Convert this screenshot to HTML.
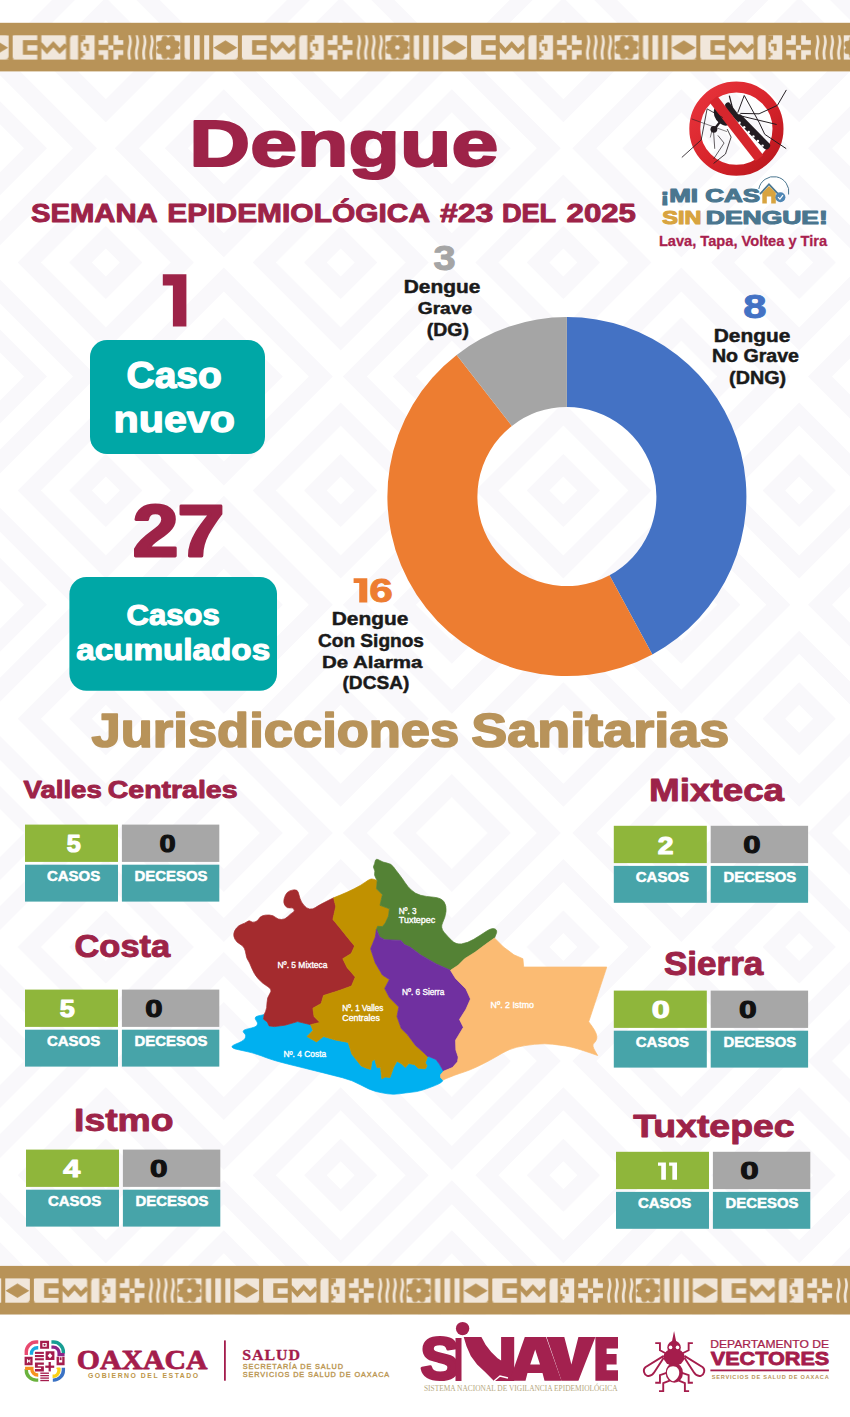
<!DOCTYPE html>
<html lang="es"><head><meta charset="utf-8"><title>Dengue - Semana Epidemiológica #23 del 2025</title>
<style>html,body{margin:0;padding:0;background:#fff}body{width:850px;height:1417px;overflow:hidden;font-family:"Liberation Sans",sans-serif}#page{position:relative;width:850px;height:1417px;overflow:hidden}svg{display:block}text{white-space:pre}</style></head><body>
<div id="page"><svg width="850" height="1417" viewBox="0 0 850 1417">
<defs><symbol id="dA" overflow="visible"><path d="M-88,0 L0,-88 L88,0 L0,88Z" fill="#f9f8fb"/><path d="M-65,0 L0,-65 L65,0 L0,65Z" fill="#ffffff"/><path d="M-36.5,0 L0,-36.5 L36.5,0 L0,36.5Z" fill="#f9f8fb"/><path d="M-14,0 L0,-14 L14,0 L0,14Z" fill="#ffffff"/></symbol><symbol id="dB" overflow="visible"><path d="M-109,0 L0,-109 L109,0 L0,109Z" fill="#f9f8fb"/><path d="M-85,0 L0,-85 L85,0 L0,85Z" fill="#ffffff"/><path d="M-59,0 L0,-59 L59,0 L0,59Z" fill="#f9f8fb"/><path d="M-36,0 L0,-36 L36,0 L0,36Z" fill="#ffffff"/></symbol><clipPath id="bgclip"><rect x="0" y="0" width="850" height="1315"/></clipPath><pattern id="band" width="229.2" height="24.3" patternUnits="userSpaceOnUse"><g transform="translate(0.00,0)"><path d="M0,0H24.6V24.3H3A3,3 0 0 1 0,21.3Z" fill="#f1e7db"/><path d="M27.6,4.9H10.2V19.4H27.6V15.2H14.6V9.9H27.6Z" fill="#b89358"/></g><g transform="translate(28.65,0)"><path d="M0,0H22.6A2,2 0 0 1 24.6,2V24.3H0Z" fill="#f1e7db"/><path d="M-4,6.5L0,9.6L5.6,15.8L12,9L18.3,15.8L24.6,9.6" fill="none" stroke="#b89358" stroke-width="4.2" stroke-linejoin="miter"/></g><g transform="translate(57.30,0)"><path d="M4,0H8.1V24.3H0V4A4,4 0 0 1 4,0Z" fill="#f1e7db"/><path d="M15.5,0H24.6V24.3H10.9V22.2H13V20H15V17.8H12.8V15.6H10.9V7H13V4.6H15.5Z" fill="#f1e7db"/><path d="M13.6,8.6H19V15.4H16.2V11.2H13.6Z" fill="#b89358"/></g><g transform="translate(85.95,0)"><path d="M4.9,0H9.5V9.5H0V4.9H4.9Z" fill="#f1e7db"/><path d="M14.9,0H19.6V4.9H24.6V9.5H14.9Z" fill="#f1e7db"/><path d="M0,14.9H9.5V24.3H4.9V19.6H0Z" fill="#f1e7db"/><path d="M14.9,14.9H24.6V19.6H19.6V24.3H14.9Z" fill="#f1e7db"/><rect x="9.9" y="10.1" width="4.8" height="4.4" fill="#f1e7db"/></g><g transform="translate(114.60,0)"><path d="M0.40,0 h2.7 c1.8,5 1.8,7.5 0.7,12 c-1.1,4.5 -1.1,7.5 0,12.3 h-2.7 c-1.1,-4.8 -1.1,-7.8 0,-12.3 c1.1,-4.5 1.1,-7 0,-12z" fill="#f1e7db"/><path d="M7.70,0 h2.7 c1.8,5 1.8,7.5 0.7,12 c-1.1,4.5 -1.1,7.5 0,12.3 h-2.7 c-1.1,-4.8 -1.1,-7.8 0,-12.3 c1.1,-4.5 1.1,-7 0,-12z" fill="#f1e7db"/><path d="M15.00,0 h2.7 c1.8,5 1.8,7.5 0.7,12 c-1.1,4.5 -1.1,7.5 0,12.3 h-2.7 c-1.1,-4.8 -1.1,-7.8 0,-12.3 c1.1,-4.5 1.1,-7 0,-12z" fill="#f1e7db"/><path d="M22.30,0 h2.7 c1.8,5 1.8,7.5 0.7,12 c-1.1,4.5 -1.1,7.5 0,12.3 h-2.7 c-1.1,-4.8 -1.1,-7.8 0,-12.3 c1.1,-4.5 1.1,-7 0,-12z" fill="#f1e7db"/></g><g transform="translate(143.25,0)"><g clip-path="url(#gclip)"><rect width="24.6" height="24.3" fill="#f1e7db"/><circle cx="12.3" cy="12.15" r="10.0" fill="#b89358"/><circle cx="20.80" cy="15.67" r="3.1" fill="#b89358"/><circle cx="15.82" cy="20.65" r="3.1" fill="#b89358"/><circle cx="8.78" cy="20.65" r="3.1" fill="#b89358"/><circle cx="3.80" cy="15.67" r="3.1" fill="#b89358"/><circle cx="3.80" cy="8.63" r="3.1" fill="#b89358"/><circle cx="8.78" cy="3.65" r="3.1" fill="#b89358"/><circle cx="15.82" cy="3.65" r="3.1" fill="#b89358"/><circle cx="20.80" cy="8.63" r="3.1" fill="#b89358"/><circle cx="12.3" cy="12.15" r="2.3" fill="#f1e7db"/></g></g><g transform="translate(171.90,0)"><path d="M0,0h5.3v24.3h-1.3a4,4 0 0 1 -4,-4z" fill="#f1e7db"/><rect x="9.5" y="0" width="5.6" height="24.3" fill="#f1e7db"/><rect x="19.6" y="0" width="5" height="24.3" fill="#f1e7db"/></g><g transform="translate(200.55,0)"><path d="M0,0H24.6V20.3A4,4 0 0 1 20.6,24.3H0Z" fill="#f1e7db"/><path d="M0.3,12.3L12.2,5.2L24,12.3L12.2,19.5Z" fill="#b89358"/></g></pattern><clipPath id="gclip"><rect width="24.6" height="24.3"/></clipPath></defs>
<rect width="850" height="1417" fill="#ffffff"/>
<g clip-path="url(#bgclip)"><use href="#dA" x="-129.1" y="34.2"/><use href="#dA" x="105.8" y="34.2"/><use href="#dA" x="340.7" y="34.2"/><use href="#dA" x="563.4" y="34.2"/><use href="#dA" x="799.2" y="34.2"/><use href="#dB" x="-12.0" y="148.3"/><use href="#dB" x="223.8" y="148.3"/><use href="#dB" x="451.8" y="148.3"/><use href="#dB" x="681.3" y="148.3"/><use href="#dB" x="917.0" y="148.3"/><use href="#dA" x="-129.1" y="262.4"/><use href="#dA" x="105.8" y="262.4"/><use href="#dA" x="340.7" y="262.4"/><use href="#dA" x="563.4" y="262.4"/><use href="#dA" x="799.2" y="262.4"/><use href="#dB" x="-12.0" y="376.5"/><use href="#dB" x="223.8" y="376.5"/><use href="#dB" x="451.8" y="376.5"/><use href="#dB" x="681.3" y="376.5"/><use href="#dB" x="917.0" y="376.5"/><use href="#dA" x="-129.1" y="490.6"/><use href="#dA" x="105.8" y="490.6"/><use href="#dA" x="340.7" y="490.6"/><use href="#dA" x="563.4" y="490.6"/><use href="#dA" x="799.2" y="490.6"/><use href="#dB" x="-12.0" y="604.7"/><use href="#dB" x="223.8" y="604.7"/><use href="#dB" x="451.8" y="604.7"/><use href="#dB" x="681.3" y="604.7"/><use href="#dB" x="917.0" y="604.7"/><use href="#dA" x="-129.1" y="718.8"/><use href="#dA" x="105.8" y="718.8"/><use href="#dA" x="340.7" y="718.8"/><use href="#dA" x="563.4" y="718.8"/><use href="#dA" x="799.2" y="718.8"/><use href="#dB" x="-12.0" y="832.9"/><use href="#dB" x="223.8" y="832.9"/><use href="#dB" x="451.8" y="832.9"/><use href="#dB" x="681.3" y="832.9"/><use href="#dB" x="917.0" y="832.9"/><use href="#dA" x="-129.1" y="947.0"/><use href="#dA" x="105.8" y="947.0"/><use href="#dA" x="340.7" y="947.0"/><use href="#dA" x="563.4" y="947.0"/><use href="#dA" x="799.2" y="947.0"/><use href="#dB" x="-12.0" y="1061.1"/><use href="#dB" x="223.8" y="1061.1"/><use href="#dB" x="451.8" y="1061.1"/><use href="#dB" x="681.3" y="1061.1"/><use href="#dB" x="917.0" y="1061.1"/><use href="#dA" x="-129.1" y="1175.2"/><use href="#dA" x="105.8" y="1175.2"/><use href="#dA" x="340.7" y="1175.2"/><use href="#dA" x="563.4" y="1175.2"/><use href="#dA" x="799.2" y="1175.2"/><use href="#dB" x="-12.0" y="1289.3"/><use href="#dB" x="223.8" y="1289.3"/><use href="#dB" x="451.8" y="1289.3"/><use href="#dB" x="681.3" y="1289.3"/><use href="#dB" x="917.0" y="1289.3"/><use href="#dA" x="-129.1" y="1403.4"/><use href="#dA" x="105.8" y="1403.4"/><use href="#dA" x="340.7" y="1403.4"/><use href="#dA" x="563.4" y="1403.4"/><use href="#dA" x="799.2" y="1403.4"/><use href="#dB" x="-12.0" y="1517.5"/><use href="#dB" x="223.8" y="1517.5"/><use href="#dB" x="451.8" y="1517.5"/><use href="#dB" x="681.3" y="1517.5"/><use href="#dB" x="917.0" y="1517.5"/></g>
<!-- top band -->
<rect x="0" y="22.8" width="850" height="48.6" fill="#b89358"/><g transform="translate(12.7,35.3)"><rect x="-242.7" y="0" width="1400" height="24.3" fill="url(#band)"/></g>
<!-- title -->
<text transform="matrix(0.8426 0 0 0.6536 189.32 166.10)" font-size="100" style="font-family:'Liberation Sans',sans-serif;font-weight:700" fill="#9d2348" stroke="#9d2348" stroke-width="2.4" vector-effect="non-scaling-stroke" stroke-linejoin="round">Dengue</text>
<text transform="matrix(0.2926 0 0 0.2507 30.92 222.10)" font-size="100" style="font-family:'Liberation Sans',sans-serif;font-weight:700" fill="#9d2348" stroke="#9d2348" stroke-width="1.0" vector-effect="non-scaling-stroke" stroke-linejoin="round">SEMANA</text>
<text transform="matrix(0.3207 0 0 0.2507 439.92 222.10)" font-size="100" style="font-family:'Liberation Sans',sans-serif;font-weight:700" fill="#9d2348" stroke="#9d2348" stroke-width="1.0" vector-effect="non-scaling-stroke" stroke-linejoin="round">#23</text>
<text transform="matrix(0.2714 0 0 0.2507 501.94 222.10)" font-size="100" style="font-family:'Liberation Sans',sans-serif;font-weight:700" fill="#9d2348" stroke="#9d2348" stroke-width="1.0" vector-effect="non-scaling-stroke" stroke-linejoin="round">DEL</text>
<text transform="matrix(0.3118 0 0 0.2507 566.61 222.10)" font-size="100" style="font-family:'Liberation Sans',sans-serif;font-weight:700" fill="#9d2348" stroke="#9d2348" stroke-width="1.0" vector-effect="non-scaling-stroke" stroke-linejoin="round">2025</text>
<text transform="matrix(0.2995 0 0 0.2507 167.25 222.10)" font-size="100" style="font-family:'Liberation Sans',sans-serif;font-weight:700" fill="#9d2348" stroke="#9d2348" stroke-width="1.0" vector-effect="non-scaling-stroke" stroke-linejoin="round">EPIDEMIOLÓGICA</text>
<!-- counters -->
<path d="M162.80,274.20H186.40V326.40H172.90V285.48H162.80Z" fill="#9d2348"/>
<rect x="90" y="340" width="175" height="114" rx="17" fill="#00a7a6"/>
<text transform="matrix(0.3894 0 0 0.3634 126.54 388.14)" font-size="100" style="font-family:'Liberation Sans',sans-serif;font-weight:700" fill="#ffffff" stroke="#ffffff" stroke-width="1.4" vector-effect="non-scaling-stroke" stroke-linejoin="round">Caso</text>
<text transform="matrix(0.4127 0 0 0.3691 113.52 431.53)" font-size="100" style="font-family:'Liberation Sans',sans-serif;font-weight:700" fill="#ffffff" stroke="#ffffff" stroke-width="1.4" vector-effect="non-scaling-stroke" stroke-linejoin="round">nuevo</text>
<text transform="matrix(0.8208 0 0 0.7186 132.73 556.00)" font-size="100" style="font-family:'Liberation Sans',sans-serif;font-weight:700" fill="#9d2348" stroke="#9d2348" stroke-width="3.0" vector-effect="non-scaling-stroke" stroke-linejoin="round">2</text>
<text transform="matrix(0.8442 0 0 0.7188 177.42 556.00)" font-size="100" style="font-family:'Liberation Sans',sans-serif;font-weight:700" fill="#9d2348" stroke="#9d2348" stroke-width="3.0" vector-effect="non-scaling-stroke" stroke-linejoin="round">7</text>
<rect x="69.4" y="577" width="207.6" height="113.7" rx="17" fill="#00a7a6"/>
<text transform="matrix(0.3106 0 0 0.2930 126.46 625.31)" font-size="100" style="font-family:'Liberation Sans',sans-serif;font-weight:700" fill="#ffffff" stroke="#ffffff" stroke-width="1.2" vector-effect="non-scaling-stroke" stroke-linejoin="round">Casos</text>
<text transform="matrix(0.3325 0 0 0.3007 76.20 660.30)" font-size="100" style="font-family:'Liberation Sans',sans-serif;font-weight:700" fill="#ffffff" stroke="#ffffff" stroke-width="1.2" vector-effect="non-scaling-stroke" stroke-linejoin="round">acumulados</text>
<!-- donut -->
<path d="M566.90,317.10 A179.5,179.5 0 0 1 652.33,654.47 L609.50,575.31 A89.5,89.5 0 0 0 566.90,407.10Z" fill="#4472c4"/><path d="M652.33,654.47 A179.5,179.5 0 0 1 456.65,354.95 L511.93,425.97 A89.5,89.5 0 0 0 609.50,575.31Z" fill="#ed7d31"/><path d="M456.65,354.95 A179.5,179.5 0 0 1 566.90,317.10 L566.90,407.10 A89.5,89.5 0 0 0 511.93,425.97Z" fill="#a5a5a5"/>
<text transform="matrix(0.3980 0 0 0.3437 433.51 269.96)" font-size="100" style="font-family:'Liberation Sans',sans-serif;font-weight:700" fill="#a5a5a5" stroke="#a5a5a5" stroke-width="1.0" vector-effect="non-scaling-stroke" stroke-linejoin="round">3</text>
<text transform="matrix(0.2090 0 0 0.1856 403.79 293.45)" font-size="100" style="font-family:'Liberation Sans',sans-serif;font-weight:700" fill="#1a1a1a" stroke="#1a1a1a" stroke-width="0.5" vector-effect="non-scaling-stroke" stroke-linejoin="round">Dengue</text>
<text transform="matrix(0.1924 0 0 0.1718 417.68 314.18)" font-size="100" style="font-family:'Liberation Sans',sans-serif;font-weight:700" fill="#1a1a1a" stroke="#1a1a1a" stroke-width="0.5" vector-effect="non-scaling-stroke" stroke-linejoin="round">Grave</text>
<text transform="matrix(0.1947 0 0 0.1818 426.78 335.63)" font-size="100" style="font-family:'Liberation Sans',sans-serif;font-weight:700" fill="#1a1a1a" stroke="#1a1a1a" stroke-width="0.5" vector-effect="non-scaling-stroke" stroke-linejoin="round">(DG)</text>
<text transform="matrix(0.4182 0 0 0.3394 743.25 318.06)" font-size="100" style="font-family:'Liberation Sans',sans-serif;font-weight:700" fill="#4472c4" stroke="#4472c4" stroke-width="1.0" vector-effect="non-scaling-stroke" stroke-linejoin="round">8</text>
<text transform="matrix(0.2090 0 0 0.1844 713.79 341.68)" font-size="100" style="font-family:'Liberation Sans',sans-serif;font-weight:700" fill="#1a1a1a" stroke="#1a1a1a" stroke-width="0.5" vector-effect="non-scaling-stroke" stroke-linejoin="round">Dengue</text>
<text transform="matrix(0.1961 0 0 0.1775 711.88 362.37)" font-size="100" style="font-family:'Liberation Sans',sans-serif;font-weight:700" fill="#1a1a1a" stroke="#1a1a1a" stroke-width="0.5" vector-effect="non-scaling-stroke" stroke-linejoin="round">No Grave</text>
<text transform="matrix(0.1975 0 0 0.1818 729.06 383.83)" font-size="100" style="font-family:'Liberation Sans',sans-serif;font-weight:700" fill="#1a1a1a" stroke="#1a1a1a" stroke-width="0.5" vector-effect="non-scaling-stroke" stroke-linejoin="round">(DNG)</text>
<path d="M353.60,578.30H367.30V602.60H359.22V583.04H353.60Z" fill="#ed7d31"/>
<text transform="matrix(0.4247 0 0 0.3366 369.31 602.06)" font-size="100" style="font-family:'Liberation Sans',sans-serif;font-weight:700" fill="#ed7d31" stroke="#ed7d31" stroke-width="1.0" vector-effect="non-scaling-stroke" stroke-linejoin="round">6</text>
<text transform="matrix(0.2090 0 0 0.1900 331.69 625.46)" font-size="100" style="font-family:'Liberation Sans',sans-serif;font-weight:700" fill="#1a1a1a" stroke="#1a1a1a" stroke-width="0.5" vector-effect="non-scaling-stroke" stroke-linejoin="round">Dengue</text>
<text transform="matrix(0.1909 0 0 0.1872 317.99 646.82)" font-size="100" style="font-family:'Liberation Sans',sans-serif;font-weight:700" fill="#1a1a1a" stroke="#1a1a1a" stroke-width="0.5" vector-effect="non-scaling-stroke" stroke-linejoin="round">Con Signos</text>
<text transform="matrix(0.2049 0 0 0.1728 321.92 667.68)" font-size="100" style="font-family:'Liberation Sans',sans-serif;font-weight:700" fill="#1a1a1a" stroke="#1a1a1a" stroke-width="0.5" vector-effect="non-scaling-stroke" stroke-linejoin="round">De Alarma</text>
<text transform="matrix(0.1912 0 0 0.1829 342.49 689.01)" font-size="100" style="font-family:'Liberation Sans',sans-serif;font-weight:700" fill="#1a1a1a" stroke="#1a1a1a" stroke-width="0.5" vector-effect="non-scaling-stroke" stroke-linejoin="round">(DCSA)</text>
<!-- heading -->
<text transform="matrix(0.5251 0 0 0.4748 91.61 746.63)" font-size="100" style="font-family:'Liberation Sans',sans-serif;font-weight:700" fill="#b8935a" stroke="#b8935a" stroke-width="1.8" vector-effect="non-scaling-stroke" stroke-linejoin="round">Jurisdicciones</text>
<text transform="matrix(0.5397 0 0 0.4748 471.28 746.63)" font-size="100" style="font-family:'Liberation Sans',sans-serif;font-weight:700" fill="#b8935a" stroke="#b8935a" stroke-width="1.8" vector-effect="non-scaling-stroke" stroke-linejoin="round">Sanitarias</text>
<!-- jurisdictions -->
<text transform="matrix(0.2760 0 0 0.2422 23.56 797.76)" font-size="100" style="font-family:'Liberation Sans',sans-serif;font-weight:700" fill="#9d2348" stroke="#9d2348" stroke-width="1.0" vector-effect="non-scaling-stroke" stroke-linejoin="round">Valles</text>
<text transform="matrix(0.2847 0 0 0.2422 107.76 797.76)" font-size="100" style="font-family:'Liberation Sans',sans-serif;font-weight:700" fill="#9d2348" stroke="#9d2348" stroke-width="1.0" vector-effect="non-scaling-stroke" stroke-linejoin="round">Centrales</text>
<rect x="25.0" y="824.6" width="93.0" height="37.3" fill="#8fb63b"/><rect x="121.9" y="824.6" width="97.4" height="37.3" fill="#a7a7a7"/><rect x="25.0" y="864.6999999999999" width="93.0" height="36.9" fill="#47a4a9"/><rect x="121.9" y="864.6999999999999" width="97.4" height="36.9" fill="#47a4a9"/><text transform="matrix(0.2520 0 0 0.2400 66.64 852.06)" font-size="100" style="font-family:'Liberation Sans',sans-serif;font-weight:700" fill="#ffffff" stroke="#ffffff" stroke-width="1.2" vector-effect="non-scaling-stroke" stroke-linejoin="round">5</text><text transform="matrix(0.2905 0 0 0.2366 159.44 852.06)" font-size="100" style="font-family:'Liberation Sans',sans-serif;font-weight:700" fill="#111111" stroke="#111111" stroke-width="1.2" vector-effect="non-scaling-stroke" stroke-linejoin="round">0</text><text transform="matrix(0.1500 0 0 0.1380 46.95 880.81)" font-size="100" style="font-family:'Liberation Sans',sans-serif;font-weight:700" fill="#ffffff" stroke="#ffffff" stroke-width="0.5" vector-effect="non-scaling-stroke" stroke-linejoin="round">CASOS</text><text transform="matrix(0.1493 0 0 0.1380 134.58 880.81)" font-size="100" style="font-family:'Liberation Sans',sans-serif;font-weight:700" fill="#ffffff" stroke="#ffffff" stroke-width="0.5" vector-effect="non-scaling-stroke" stroke-linejoin="round">DECESOS</text>
<text transform="matrix(0.3450 0 0 0.3099 74.42 957.19)" font-size="100" style="font-family:'Liberation Sans',sans-serif;font-weight:700" fill="#9d2348" stroke="#9d2348" stroke-width="1.0" vector-effect="non-scaling-stroke" stroke-linejoin="round">Costa</text>
<rect x="25.0" y="989.6" width="93.0" height="37.3" fill="#8fb63b"/><rect x="121.9" y="989.6" width="97.4" height="37.3" fill="#a7a7a7"/><rect x="25.0" y="1029.7" width="93.0" height="36.9" fill="#47a4a9"/><rect x="121.9" y="1029.7" width="97.4" height="36.9" fill="#47a4a9"/><text transform="matrix(0.2700 0 0 0.2400 59.79 1017.06)" font-size="100" style="font-family:'Liberation Sans',sans-serif;font-weight:700" fill="#ffffff" stroke="#ffffff" stroke-width="1.2" vector-effect="non-scaling-stroke" stroke-linejoin="round">5</text><text transform="matrix(0.3116 0 0 0.2366 145.35 1017.06)" font-size="100" style="font-family:'Liberation Sans',sans-serif;font-weight:700" fill="#111111" stroke="#111111" stroke-width="1.2" vector-effect="non-scaling-stroke" stroke-linejoin="round">0</text><text transform="matrix(0.1500 0 0 0.1380 46.95 1045.81)" font-size="100" style="font-family:'Liberation Sans',sans-serif;font-weight:700" fill="#ffffff" stroke="#ffffff" stroke-width="0.5" vector-effect="non-scaling-stroke" stroke-linejoin="round">CASOS</text><text transform="matrix(0.1493 0 0 0.1380 134.58 1045.81)" font-size="100" style="font-family:'Liberation Sans',sans-serif;font-weight:700" fill="#ffffff" stroke="#ffffff" stroke-width="0.5" vector-effect="non-scaling-stroke" stroke-linejoin="round">DECESOS</text>
<text transform="matrix(0.3734 0 0 0.3186 74.07 1131.48)" font-size="100" style="font-family:'Liberation Sans',sans-serif;font-weight:700" fill="#9d2348" stroke="#9d2348" stroke-width="1.0" vector-effect="non-scaling-stroke" stroke-linejoin="round">Istmo</text>
<rect x="26.0" y="1149.6" width="93.0" height="37.3" fill="#8fb63b"/><rect x="122.9" y="1149.6" width="97.4" height="37.3" fill="#a7a7a7"/><rect x="26.0" y="1189.6999999999998" width="93.0" height="36.9" fill="#47a4a9"/><rect x="122.9" y="1189.6999999999998" width="97.4" height="36.9" fill="#47a4a9"/><text transform="matrix(0.3065 0 0 0.2435 63.14 1177.30)" font-size="100" style="font-family:'Liberation Sans',sans-serif;font-weight:700" fill="#ffffff" stroke="#ffffff" stroke-width="1.2" vector-effect="non-scaling-stroke" stroke-linejoin="round">4</text><text transform="matrix(0.3158 0 0 0.2366 149.94 1177.06)" font-size="100" style="font-family:'Liberation Sans',sans-serif;font-weight:700" fill="#111111" stroke="#111111" stroke-width="1.2" vector-effect="non-scaling-stroke" stroke-linejoin="round">0</text><text transform="matrix(0.1500 0 0 0.1380 47.95 1205.81)" font-size="100" style="font-family:'Liberation Sans',sans-serif;font-weight:700" fill="#ffffff" stroke="#ffffff" stroke-width="0.5" vector-effect="non-scaling-stroke" stroke-linejoin="round">CASOS</text><text transform="matrix(0.1493 0 0 0.1380 135.58 1205.81)" font-size="100" style="font-family:'Liberation Sans',sans-serif;font-weight:700" fill="#ffffff" stroke="#ffffff" stroke-width="0.5" vector-effect="non-scaling-stroke" stroke-linejoin="round">DECESOS</text>
<text transform="matrix(0.3684 0 0 0.3159 649.01 801.30)" font-size="100" style="font-family:'Liberation Sans',sans-serif;font-weight:700" fill="#9d2348" stroke="#9d2348" stroke-width="1.0" vector-effect="non-scaling-stroke" stroke-linejoin="round">Mixteca</text>
<rect x="613.8" y="825.8" width="93.0" height="37.3" fill="#8fb63b"/><rect x="710.6999999999999" y="825.8" width="97.4" height="37.3" fill="#a7a7a7"/><rect x="613.8" y="865.8999999999999" width="93.0" height="36.9" fill="#47a4a9"/><rect x="710.6999999999999" y="865.8999999999999" width="97.4" height="36.9" fill="#47a4a9"/><text transform="matrix(0.2833 0 0 0.2400 657.81 853.50)" font-size="100" style="font-family:'Liberation Sans',sans-serif;font-weight:700" fill="#ffffff" stroke="#ffffff" stroke-width="1.2" vector-effect="non-scaling-stroke" stroke-linejoin="round">2</text><text transform="matrix(0.3116 0 0 0.2366 743.35 853.26)" font-size="100" style="font-family:'Liberation Sans',sans-serif;font-weight:700" fill="#111111" stroke="#111111" stroke-width="1.2" vector-effect="non-scaling-stroke" stroke-linejoin="round">0</text><text transform="matrix(0.1500 0 0 0.1380 635.75 882.01)" font-size="100" style="font-family:'Liberation Sans',sans-serif;font-weight:700" fill="#ffffff" stroke="#ffffff" stroke-width="0.5" vector-effect="non-scaling-stroke" stroke-linejoin="round">CASOS</text><text transform="matrix(0.1493 0 0 0.1380 723.38 882.01)" font-size="100" style="font-family:'Liberation Sans',sans-serif;font-weight:700" fill="#ffffff" stroke="#ffffff" stroke-width="0.5" vector-effect="non-scaling-stroke" stroke-linejoin="round">DECESOS</text>
<text transform="matrix(0.3506 0 0 0.3232 663.95 974.80)" font-size="100" style="font-family:'Liberation Sans',sans-serif;font-weight:700" fill="#9d2348" stroke="#9d2348" stroke-width="1.0" vector-effect="non-scaling-stroke" stroke-linejoin="round">Sierra</text>
<rect x="613.8" y="990.6" width="93.0" height="37.3" fill="#8fb63b"/><rect x="710.6999999999999" y="990.6" width="97.4" height="37.3" fill="#a7a7a7"/><rect x="613.8" y="1030.7" width="93.0" height="36.9" fill="#47a4a9"/><rect x="710.6999999999999" y="1030.7" width="97.4" height="36.9" fill="#47a4a9"/><text transform="matrix(0.3242 0 0 0.2366 651.70 1018.06)" font-size="100" style="font-family:'Liberation Sans',sans-serif;font-weight:700" fill="#ffffff" stroke="#ffffff" stroke-width="1.2" vector-effect="non-scaling-stroke" stroke-linejoin="round">0</text><text transform="matrix(0.3179 0 0 0.2366 739.03 1018.06)" font-size="100" style="font-family:'Liberation Sans',sans-serif;font-weight:700" fill="#111111" stroke="#111111" stroke-width="1.2" vector-effect="non-scaling-stroke" stroke-linejoin="round">0</text><text transform="matrix(0.1500 0 0 0.1380 635.75 1046.81)" font-size="100" style="font-family:'Liberation Sans',sans-serif;font-weight:700" fill="#ffffff" stroke="#ffffff" stroke-width="0.5" vector-effect="non-scaling-stroke" stroke-linejoin="round">CASOS</text><text transform="matrix(0.1493 0 0 0.1380 723.38 1046.81)" font-size="100" style="font-family:'Liberation Sans',sans-serif;font-weight:700" fill="#ffffff" stroke="#ffffff" stroke-width="0.5" vector-effect="non-scaling-stroke" stroke-linejoin="round">DECESOS</text>
<text transform="matrix(0.3743 0 0 0.3111 633.13 1136.97)" font-size="100" style="font-family:'Liberation Sans',sans-serif;font-weight:700" fill="#9d2348" stroke="#9d2348" stroke-width="1.0" vector-effect="non-scaling-stroke" stroke-linejoin="round">Tuxtepec</text>
<rect x="616.0" y="1151.8" width="93.0" height="37.3" fill="#8fb63b"/><rect x="712.9" y="1151.8" width="97.4" height="37.3" fill="#a7a7a7"/><rect x="616.0" y="1191.8999999999999" width="93.0" height="36.9" fill="#47a4a9"/><rect x="712.9" y="1191.8999999999999" width="97.4" height="36.9" fill="#47a4a9"/><path d="M658.00,1162.40H665.90V1179.80H661.24V1165.79H658.00Z" fill="#ffffff"/><path d="M669.10,1162.40H677.00V1179.80H672.34V1165.79H669.10Z" fill="#ffffff"/><text transform="matrix(0.3326 0 0 0.2366 740.27 1179.26)" font-size="100" style="font-family:'Liberation Sans',sans-serif;font-weight:700" fill="#111111" stroke="#111111" stroke-width="1.2" vector-effect="non-scaling-stroke" stroke-linejoin="round">0</text><text transform="matrix(0.1500 0 0 0.1380 637.95 1208.01)" font-size="100" style="font-family:'Liberation Sans',sans-serif;font-weight:700" fill="#ffffff" stroke="#ffffff" stroke-width="0.5" vector-effect="non-scaling-stroke" stroke-linejoin="round">CASOS</text><text transform="matrix(0.1493 0 0 0.1380 725.58 1208.01)" font-size="100" style="font-family:'Liberation Sans',sans-serif;font-weight:700" fill="#ffffff" stroke="#ffffff" stroke-width="0.5" vector-effect="non-scaling-stroke" stroke-linejoin="round">DECESOS</text>
<!-- map -->
<path d="M264.2,1014.6 L262.2,1015.0 Q260.3,1015.3 257.8,1016.0 Q255.3,1016.7 255.2,1018.0 Q255.0,1019.2 256.2,1020.6 Q257.5,1022.0 257.5,1023.6 Q257.5,1025.2 256.1,1026.2 Q254.6,1027.3 251.4,1028.0 Q248.3,1028.7 245.8,1029.4 Q243.3,1030.1 243.2,1031.2 Q243.0,1032.2 244.2,1033.2 Q245.5,1034.3 245.7,1035.8 Q245.8,1037.2 244.8,1038.8 Q243.7,1040.3 241.4,1041.5 Q239.1,1042.8 235.9,1044.0 Q232.8,1045.3 232.1,1046.2 Q231.4,1047.0 232.8,1047.9 Q234.2,1048.8 238.4,1049.7 Q242.6,1050.6 247.9,1051.8 Q253.2,1053.0 257.4,1054.5 Q261.7,1055.9 266.3,1057.7 Q270.9,1059.4 275.4,1060.7 Q280.0,1062.0 287.6,1064.0 Q295.3,1065.9 304.7,1068.2 Q314.1,1070.6 323.5,1072.9 Q332.9,1075.3 342.4,1077.7 Q351.8,1080.0 360.9,1085.0 Q370.0,1090.0 375.9,1091.5 Q381.8,1092.9 387.6,1093.8 Q393.5,1094.7 399.4,1093.8 Q405.3,1092.9 411.1,1092.3 Q417.0,1091.8 421.8,1090.3 Q426.5,1088.8 431.2,1087.0 Q435.9,1085.3 438.9,1083.8 Q441.8,1082.4 442.4,1081.2 L442.9,1080.0 L440.6,1077.6 L440.6,1074.7 L443.5,1071.2 L439.4,1064.1 L435.9,1059.4 L428.8,1056.5 L427.6,1056.5 L425.3,1062.9 L427.0,1065.9 L425.3,1068.8 L418.2,1068.2 L414.7,1064.7 L408.8,1063.5 L405.3,1067.6 L401.8,1064.1 L397.0,1061.2 L393.5,1067.6 L390.0,1077.6 L385.3,1077.0 L381.8,1078.8 L380.6,1067.6 L377.0,1067.6 L374.7,1059.4 L372.0,1061.0 L370.6,1069.4 L366.0,1068.0 L361.2,1065.9 L351.8,1054.1 L348.2,1042.4 L335.3,1040.0 L323.5,1036.5 L316.5,1041.9 L307.0,1036.5 L312.9,1030.6 L310.6,1024.7 L297.6,1021.6 L285.0,1025.2 L274.4,1026.6 L269.1,1025.9 L267.3,1022.0 L263.5,1019.2 L264.2,1014.6 Z" fill="#00b0f0" stroke="#00b0f0" stroke-width="0.7" stroke-linejoin="round"/><path d="M264.2,1014.6 L265.6,1011.4 Q267.0,1008.2 267.0,1002.9 Q267.0,997.6 269.9,993.5 Q272.9,989.4 267.6,986.5 Q262.4,983.5 258.2,978.8 Q254.0,974.0 251.7,968.0 Q249.4,962.0 247.9,960.0 Q246.5,958.0 246.0,954.4 Q245.5,950.8 244.2,948.1 Q242.8,945.5 239.7,943.9 Q236.5,942.3 234.9,939.1 Q233.3,935.9 233.9,933.2 Q234.4,930.6 236.5,928.0 Q238.6,925.4 241.8,924.3 Q244.9,923.2 247.1,921.7 Q249.2,920.1 250.8,921.4 Q252.4,922.7 255.0,921.9 Q257.6,921.1 258.7,919.0 Q259.8,916.9 262.5,915.8 Q265.1,914.8 269.3,915.0 Q273.5,915.3 275.6,917.4 Q277.8,919.5 281.5,919.5 Q285.2,919.5 287.9,916.6 Q290.5,913.7 292.9,912.4 Q295.2,911.1 293.9,909.2 Q292.6,907.4 290.0,907.9 Q287.3,908.4 285.2,905.8 Q283.1,903.1 284.1,898.9 Q285.2,894.6 287.3,892.5 Q289.4,890.4 293.4,889.9 Q297.4,889.4 298.1,892.0 Q298.9,894.6 300.0,898.4 Q301.1,902.1 303.8,905.2 Q306.4,908.4 309.5,909.0 Q312.7,909.5 315.4,907.6 Q318.0,905.8 320.8,904.3 Q323.5,902.9 328.6,900.3 L333.6,897.8 L335.8,906.5 L332.9,919.4 L338.8,926.5 L348.2,938.2 L354.6,946.0 L351.3,953.5 L342.8,958.7 L347.1,967.6 L355.3,977.0 L351.5,986.0 L342.0,989.5 L335.3,991.8 L323.5,995.5 L321.2,1003.5 L312.9,1008.2 L314.1,1016.5 L320.0,1022.4 L310.6,1024.7 L297.6,1021.6 L285.0,1025.2 L274.4,1026.6 L269.1,1025.9 L267.3,1022.0 L263.5,1019.2 L264.2,1014.6 Z" fill="#a42b2e" stroke="#a42b2e" stroke-width="0.7" stroke-linejoin="round"/><path d="M333.6,897.8 L340.3,895.1 Q347.0,892.4 354.1,888.8 Q361.2,885.3 365.3,882.2 Q369.4,879.2 371.2,879.0 Q373.0,878.9 375.1,879.8 L377.2,880.6 L376.5,888.8 L382.4,894.7 L380.0,905.3 L389.4,908.8 L388.5,916.0 L385.4,922.8 L382.5,926.6 L377.6,926.3 L376.4,929.5 L375.3,937.1 L370.6,948.8 L375.3,962.9 L382.4,975.0 L389.4,979.5 L384.7,988.5 L389.4,997.6 L398.8,1007.1 L397.0,1016.5 L401.3,1028.6 L407.8,1035.0 L415.5,1045.4 L423.0,1052.0 L427.6,1056.5 L425.3,1062.9 L427.0,1065.9 L425.3,1068.8 L418.2,1068.2 L414.7,1064.7 L408.8,1063.5 L405.3,1067.6 L401.8,1064.1 L397.0,1061.2 L393.5,1067.6 L390.0,1077.6 L385.3,1077.0 L381.8,1078.8 L380.6,1067.6 L377.0,1067.6 L374.7,1059.4 L372.0,1061.0 L370.6,1069.4 L366.0,1068.0 L361.2,1065.9 L351.8,1054.1 L348.2,1042.4 L335.3,1040.0 L323.5,1036.5 L316.5,1041.9 L307.0,1036.5 L312.9,1030.6 L310.6,1024.7 L320.0,1022.4 L314.1,1016.5 L312.9,1008.2 L321.2,1003.5 L323.5,995.5 L335.3,991.8 L342.0,989.5 L351.5,986.0 L355.3,977.0 L347.1,967.6 L342.8,958.7 L351.3,953.5 L354.6,946.0 L348.2,938.2 L338.8,926.5 L332.9,919.4 L335.8,906.5 L333.6,897.8 Z" fill="#c19100" stroke="#c19100" stroke-width="0.7" stroke-linejoin="round"/><path d="M377.2,880.6 L375.6,877.7 Q374.0,874.7 374.7,873.0 Q375.4,871.2 374.1,869.0 Q372.9,866.9 373.8,865.5 Q374.7,864.1 375.2,861.1 Q375.8,858.1 379.3,860.2 Q382.8,862.4 387.1,863.1 Q391.3,863.8 393.4,866.8 Q395.5,869.8 399.1,874.3 Q402.6,878.9 405.1,882.7 Q407.5,886.5 411.5,890.2 Q415.5,894.0 420.7,895.3 Q425.9,896.6 433.6,897.2 Q441.4,897.9 444.0,901.8 Q446.6,905.6 446.0,911.5 Q445.3,917.3 442.7,922.5 Q440.1,927.6 444.0,932.2 Q447.9,936.7 451.8,940.6 Q455.6,944.5 461.5,943.9 Q467.3,943.2 473.8,939.3 Q480.2,935.4 486.0,931.5 Q491.9,927.6 494.9,928.9 Q497.8,930.2 496.1,934.1 L494.5,938.0 L485.4,944.5 L475.1,952.2 L464.7,958.7 L458.2,965.2 L450.5,970.3 L436.2,963.9 L420.7,955.0 L410.0,947.0 L404.4,944.6 L400.9,940.4 L384.6,939.7 L379.7,936.9 L376.4,929.5 L377.6,926.3 L382.5,926.6 L385.4,922.8 L388.5,916.0 L389.4,908.8 L380.0,905.3 L382.4,894.7 L376.5,888.8 L377.2,880.6 Z" fill="#548235" stroke="#548235" stroke-width="0.7" stroke-linejoin="round"/><path d="M376.4,929.5 L379.7,936.9 L384.6,939.7 L400.9,940.4 L404.4,944.6 L410.0,947.0 L420.7,955.0 L436.2,963.9 L450.5,970.3 L455.6,978.5 L466.0,989.0 L470.5,999.0 L466.0,1009.2 L459.5,1019.5 L463.4,1027.3 L455.6,1040.2 L455.9,1050.0 L458.2,1057.0 L457.6,1061.8 L452.4,1067.6 L443.5,1071.2 L439.4,1064.1 L435.9,1059.4 L428.8,1056.5 L427.6,1056.5 L423.0,1052.0 L415.5,1045.4 L407.8,1035.0 L401.3,1028.6 L397.0,1016.5 L398.8,1007.1 L389.4,997.6 L384.7,988.5 L389.4,979.5 L382.4,975.0 L375.3,962.9 L370.6,948.8 L375.3,937.1 L376.4,929.5 Z" fill="#7030a0" stroke="#7030a0" stroke-width="0.7" stroke-linejoin="round"/><path d="M494.5,938.0 L503.5,947.0 L513.9,954.8 L522.9,958.7 L523.7,967.0 L606.8,967.0 L588.7,1021.8 L591.8,1026.0 Q594.9,1030.3 596.1,1033.4 Q597.3,1036.5 596.7,1038.8 Q596.1,1041.2 594.4,1042.8 Q592.6,1044.3 593.0,1046.2 Q593.4,1048.2 595.5,1051.8 L597.7,1055.5 L590.5,1053.0 Q583.3,1050.5 577.5,1048.8 Q571.6,1047.0 565.8,1046.0 Q560.0,1045.1 552.5,1044.2 Q544.9,1043.3 534.5,1044.3 Q524.2,1045.4 516.5,1047.3 Q508.7,1049.3 502.2,1053.2 Q495.8,1057.0 489.4,1060.5 Q483.0,1064.0 476.5,1067.0 Q470.0,1070.0 464.7,1071.8 Q459.4,1073.5 454.7,1075.2 Q450.0,1077.0 446.4,1078.5 L442.9,1080.0 L440.6,1077.6 L440.6,1074.7 L443.5,1071.2 L452.4,1067.6 L457.6,1061.8 L458.2,1057.0 L455.9,1050.0 L455.6,1040.2 L463.4,1027.3 L459.5,1019.5 L466.0,1009.2 L470.5,999.0 L466.0,989.0 L455.6,978.5 L450.5,970.3 L458.2,965.2 L464.7,958.7 L475.1,952.2 L485.4,944.5 L494.5,938.0 Z" fill="#fbbb73" stroke="#fbbb73" stroke-width="0.7" stroke-linejoin="round"/><text transform="matrix(0.0815 0 0 0.0877 398.72 914.33)" font-size="100" style="font-family:'Liberation Sans',sans-serif;font-weight:400" fill="#ffffff" stroke="#ffffff" stroke-width="0.35" vector-effect="non-scaling-stroke" stroke-linejoin="round">Nº. 3</text><text transform="matrix(0.0895 0 0 0.0877 398.80 923.03)" font-size="100" style="font-family:'Liberation Sans',sans-serif;font-weight:400" fill="#ffffff" stroke="#ffffff" stroke-width="0.35" vector-effect="non-scaling-stroke" stroke-linejoin="round">Tuxtepec</text><text transform="matrix(0.0843 0 0 0.0877 277.50 967.93)" font-size="100" style="font-family:'Liberation Sans',sans-serif;font-weight:400" fill="#ffffff" stroke="#ffffff" stroke-width="0.35" vector-effect="non-scaling-stroke" stroke-linejoin="round">Nº. 5 Mixteca</text><text transform="matrix(0.0828 0 0 0.0877 401.91 995.03)" font-size="100" style="font-family:'Liberation Sans',sans-serif;font-weight:400" fill="#ffffff" stroke="#ffffff" stroke-width="0.35" vector-effect="non-scaling-stroke" stroke-linejoin="round">Nº. 6 Sierra</text><text transform="matrix(0.0882 0 0 0.0891 490.57 1007.73)" font-size="100" style="font-family:'Liberation Sans',sans-serif;font-weight:400" fill="#ffffff" stroke="#ffffff" stroke-width="0.35" vector-effect="non-scaling-stroke" stroke-linejoin="round">Nº. 2 Istmo</text><text transform="matrix(0.0805 0 0 0.0877 342.13 1011.33)" font-size="100" style="font-family:'Liberation Sans',sans-serif;font-weight:400" fill="#ffffff" stroke="#ffffff" stroke-width="0.35" vector-effect="non-scaling-stroke" stroke-linejoin="round">Nº. 1 Valles</text><text transform="matrix(0.0876 0 0 0.0862 342.34 1020.83)" font-size="100" style="font-family:'Liberation Sans',sans-serif;font-weight:400" fill="#ffffff" stroke="#ffffff" stroke-width="0.35" vector-effect="non-scaling-stroke" stroke-linejoin="round">Centrales</text><text transform="matrix(0.0839 0 0 0.0862 283.50 1057.42)" font-size="100" style="font-family:'Liberation Sans',sans-serif;font-weight:400" fill="#ffffff" stroke="#ffffff" stroke-width="0.35" vector-effect="non-scaling-stroke" stroke-linejoin="round">Nº. 4 Costa</text>
<!-- bottom band -->
<rect x="0" y="1265.9" width="850" height="48.6" fill="#b89358"/><g transform="translate(33.9,1278.4)"><rect x="-263.9" y="0" width="1400" height="24.3" fill="url(#band)"/></g>
<!-- footer logos -->
<g transform="translate(10,1330) scale(0.094118)" fill="none" stroke-linecap="butt"><path d="M173,265 V233 A105,105 0 0 1 278,128 H300" stroke="#e8496f" stroke-width="36"/><path d="M440,128 H462 A105,105 0 0 1 567,233 V250" stroke="#179e93" stroke-width="36"/><path d="M567,400 V427 A105,105 0 0 1 462,532 H455" stroke="#3a72c4" stroke-width="36"/><path d="M300,532 H278 A105,105 0 0 1 173,427 V415" stroke="#6ab23d" stroke-width="36"/><path d="M228,262 V250 A62,62 0 0 1 290,188 H300" stroke="#19a8e0" stroke-width="36"/><path d="M440,182 H460 A62,62 0 0 1 522,244 V262 H580" stroke="#8c2387" stroke-width="36"/><path d="M512,400 V416 " stroke="#fbd116" stroke-width="36"/><path d="M520,400 V430 A62,62 0 0 1 458,492 H452" stroke="#fbd116" stroke-width="36"/><path d="M300,478 H294 A62,62 0 0 1 232,416 V408 H160" stroke="#f6921e" stroke-width="36"/></g><g transform="translate(10,1330) scale(0.094118)" fill="#a41c4c"><path d="M320,115H415V200H320Z M345,138V178H390V138Z" fill-rule="evenodd"/><circle cx="367" cy="158" r="12"/><path d="M155,285H240V375H155Z M180,305L205,330L180,355Z M215,305V355L200,330Z" fill-rule="evenodd"/><path d="M495,285H520V345H555V285H580V375H495Z"/><rect x="528" y="290" width="20" height="30"/><rect x="322" y="452" width="92" height="14"/><rect x="322" y="478" width="92" height="14"/><rect x="322" y="504" width="92" height="14"/><rect x="322" y="530" width="92" height="14"/><rect x="265" y="232" width="95" height="22"/><rect x="265" y="266" width="95" height="22"/><rect x="265" y="300" width="95" height="22"/><path d="M378,226H472V320H378Z M425,245L450,273L425,301L400,273Z" fill-rule="evenodd"/><path d="M265,345H360V370H295V385H360V440H265V415H330V400H265Z"/><rect x="410" y="340" width="24" height="100"/><rect x="375" y="378" width="95" height="24"/></g><text transform="matrix(0.2977 0 0 0.2836 76.81 1368.92)" font-size="100" style="font-family:'Liberation Serif',serif;font-weight:700" fill="#a41c4c" stroke="#a41c4c" stroke-width="0.8" vector-effect="non-scaling-stroke" stroke-linejoin="round">OAXACA</text><text transform="matrix(0.0688 0 0 0.0704 87.92 1377.83)" font-size="100" style="font-family:'Liberation Sans',sans-serif;font-weight:700" fill="#bd9648" letter-spacing="22.00">GOBIERNO DEL ESTADO</text><rect x="224" y="1340.4" width="1.8" height="40.3" fill="#a41c4c"/><text transform="matrix(0.1592 0 0 0.1405 242.17 1359.75)" font-size="100" style="font-family:'Liberation Serif',serif;font-weight:700" fill="#a41c4c" stroke="#a41c4c" stroke-width="0.3" vector-effect="non-scaling-stroke" stroke-linejoin="round" letter-spacing="6.00">SALUD</text><text transform="matrix(0.0733 0 0 0.0688 242.75 1368.73)" font-size="100" style="font-family:'Liberation Sans',sans-serif;font-weight:400" fill="#bb9650" stroke="#bb9650" stroke-width="0.35" vector-effect="non-scaling-stroke" stroke-linejoin="round" letter-spacing="12.00">SECRETARÍA DE SALUD</text><text transform="matrix(0.0732 0 0 0.0703 242.75 1377.33)" font-size="100" style="font-family:'Liberation Sans',sans-serif;font-weight:400" fill="#bb9650" stroke="#bb9650" stroke-width="0.35" vector-effect="non-scaling-stroke" stroke-linejoin="round" letter-spacing="12.00">SERVICIOS DE SALUD DE OAXACA</text>
<text transform="matrix(0.5833 0 0 0.5859 420.45 1378.81)" font-size="100" style="font-family:'Liberation Sans',sans-serif;font-weight:700" fill="#a3214f" stroke="#a3214f" stroke-width="3.2" vector-effect="non-scaling-stroke" stroke-linejoin="round">S</text><circle cx="462.6" cy="1328.6" r="6.7" fill="#a3214f"/><rect x="455.5" y="1338" width="6" height="43" fill="#a3214f"/><path d="M463.7,1337.1H481.4L485.6,1344.8L491.2,1351.9L497.6,1358.2L501.1,1360.4V1337.1H514.2V1381H494L485.6,1372.4L477.1,1364.6L470.8,1356.1L466.5,1346.2Z" fill="#a3214f"/><path d="M524.8,1337.1H546L561.5,1380.8H544.5L542.5,1373H527.5L525.5,1380.8H509.5Z M535.2,1349.5L530.2,1364.4H540Z" fill="#a3214f" fill-rule="evenodd"/><path d="M546.6,1337.1H564.3L571.4,1364.6L578.4,1337.1H595.4L578.4,1380.8H561.5Z" fill="#a3214f"/><path d="M595.4,1337.1H618V1348.4H606.6V1354H616.6V1364.6H606.6V1370.2H618V1380.8H595.4Z" fill="#a3214f"/><path d="M463,1340L468,1356L474,1366L488,1380" fill="none" stroke="#fff" stroke-width="1.6"/><path d="M494,1381L500,1376L508,1378" fill="none" stroke="#fff" stroke-width="1.4"/><text transform="matrix(0.0743 0 0 0.0809 423.92 1390.90)" font-size="100" style="font-family:'Liberation Serif',serif;font-weight:400" fill="#b5a77e">SISTEMA NACIONAL DE VIGILANCIA EPIDEMIOLÓGICA</text>
<g transform="translate(635,1322) scale(0.094118)" stroke="#a51d4c" fill="none" stroke-width="20" stroke-linejoin="miter"><path d="M415,95L385,245H445Z" fill="#a51d4c" stroke="none"/><circle cx="415" cy="272" r="72" fill="#a51d4c" stroke="none"/><ellipse cx="415" cy="372" rx="112" ry="92" fill="#a51d4c" stroke="none"/><circle cx="378" cy="270" r="19" fill="#fff" stroke="none"/><circle cx="452" cy="270" r="19" fill="#fff" stroke="none"/><ellipse cx="418" cy="540" rx="92" ry="105" fill="#a51d4c" stroke="none"/><path d="M405,470 C360,470 335,505 340,545 C346,590 380,625 405,630 C440,620 470,580 470,540 C470,500 445,470 405,470Z" fill="#fff" stroke="none"/><path d="M305,360 L110,480 C80,505 95,560 130,572 C165,580 190,560 205,535 L305,380" /><path d="M525,360 L720,480 C750,505 735,560 700,572 C665,580 640,560 625,535 L525,380" /><path d="M330,335 L265,300 V225 H215"/><path d="M500,335 L570,300 V225 H615"/><path d="M335,540 L265,565 V645 H215"/><path d="M500,540 L570,565 V645 H615"/><path d="M375,620 L300,650 V735 H255"/><path d="M460,620 L530,650 V735 H575"/></g><text transform="matrix(0.1212 0 0 0.1134 710.26 1348.46)" font-size="100" style="font-family:'Liberation Sans',sans-serif;font-weight:400" fill="#a51d4c" stroke="#a51d4c" stroke-width="0.25" vector-effect="non-scaling-stroke" stroke-linejoin="round">DEPARTAMENTO DE</text><text transform="matrix(0.2162 0 0 0.1901 710.74 1365.06)" font-size="100" style="font-family:'Liberation Sans',sans-serif;font-weight:700" fill="#a51d4c" stroke="#a51d4c" stroke-width="0.9" vector-effect="non-scaling-stroke" stroke-linejoin="round">VECTORES</text><rect x="710.4" y="1369.5" width="118.5" height="1.8" fill="#a51d4c"/><text transform="matrix(0.0562 0 0 0.0535 711.73 1378.85)" font-size="100" style="font-family:'Liberation Sans',sans-serif;font-weight:700" fill="#b8935a" letter-spacing="14.00">SERVICIOS DE SALUD DE OAXACA</text>
<!-- mi casa sin dengue -->
<defs><linearGradient id="rg" x1="0" y1="0" x2="1" y2="1"><stop offset="0" stop-color="#e8343c"/><stop offset="0.5" stop-color="#d9252c"/><stop offset="1" stop-color="#b8161d"/></linearGradient></defs><circle cx="736.4" cy="128.7" r="41.6" fill="none" stroke="url(#rg)" stroke-width="11"/><g transform="translate(680,75) scale(0.14118)" fill="none" stroke="#231c21" stroke-linecap="round" stroke-linejoin="round"><ellipse cx="305" cy="285" rx="58" ry="80" transform="rotate(-35 305 285)" fill="#231c21" stroke="none"/><path d="M340,215 L400,295" stroke-width="40"/></g><line x1="713.4" y1="99.1" x2="759.4" y2="158.3" stroke="#d6262d" stroke-width="10"/><g transform="translate(680,75) scale(0.14118)" fill="none" stroke="#231c21" stroke-linecap="round" stroke-linejoin="round"><path d="M420,306 L612,500" stroke-width="52"/><circle cx="240" cy="385" r="24" fill="#231c21" stroke="none"/><path d="M285,330 L250,375" stroke-width="16"/><path d="M238,405 L246,520" stroke-width="5"/><path d="M225,400 L215,440" stroke-width="4"/><path d="M350,150 L372,235" stroke-width="9"/><path d="M410,265 L455,145 L560,335 L600,420 L750,520" stroke-width="7"/><path d="M430,272 L560,275 L690,215 L752,108" stroke-width="7"/><path d="M440,292 L682,350" stroke-width="7"/><path d="M300,300 L192,240 L150,460 L15,582" stroke-width="6"/><path d="M85,312 L330,400" stroke-width="4"/><path d="M335,385 L362,440 L322,560 L240,625" stroke-width="6"/><path d="M270,430 L312,482 L240,592" stroke-width="5"/><circle cx="422" cy="338" r="8.5" fill="#ffffff" stroke="none"/><circle cx="455" cy="370" r="8.5" fill="#ffffff" stroke="none"/><circle cx="487" cy="403" r="8.5" fill="#ffffff" stroke="none"/><circle cx="520" cy="435" r="8.5" fill="#ffffff" stroke="none"/><circle cx="552" cy="468" r="8.5" fill="#ffffff" stroke="none"/><circle cx="585" cy="500" r="8.5" fill="#ffffff" stroke="none"/></g><text transform="matrix(0.2597 0 0 0.1791 660.58 202.38)" font-size="100" style="font-family:'Liberation Sans',sans-serif;font-weight:700" fill="#4a768f" stroke="#4a768f" stroke-width="1.3" vector-effect="non-scaling-stroke" stroke-linejoin="round">¡MI CAS</text><text transform="matrix(0.2344 0 0 0.1873 662.35 224.16)" font-size="100" style="font-family:'Liberation Sans',sans-serif;font-weight:700" fill="#d8a440" stroke="#d8a440" stroke-width="1.3" vector-effect="non-scaling-stroke" stroke-linejoin="round">SIN</text><text transform="matrix(0.2646 0 0 0.1873 705.83 224.16)" font-size="100" style="font-family:'Liberation Sans',sans-serif;font-weight:700" fill="#4a768f" stroke="#4a768f" stroke-width="1.3" vector-effect="non-scaling-stroke" stroke-linejoin="round">DENGUE!</text><text transform="matrix(0.1464 0 0 0.1529 658.90 245.94)" font-size="100" style="font-family:'Liberation Sans',sans-serif;font-weight:700" fill="#a91f4e" stroke="#a91f4e" stroke-width="0.3" vector-effect="non-scaling-stroke" stroke-linejoin="round">Lava, Tapa, Voltea y Tira</text><path d="M762.3,203.4V192.6L769,186L775.8,192.6V203.4H771.2V196.6H766.8V203.4Z" fill="#d8a440"/><path d="M760.4,193.6L769,184.2L777.8,193.6" fill="none" stroke="#4a768f" stroke-width="1.7" stroke-linejoin="miter" stroke-linecap="round"/><path d="M758.8,189A15,15 0 0 1 788.6,194.5" fill="none" stroke="#4a768f" stroke-width="1"/><circle cx="780.4" cy="197.2" r="5" fill="#4f86b4"/><path d="M778,197.2L779.9,199.2L783,195.2" fill="none" stroke="#fff" stroke-width="1.2"/>
</svg></div></body></html>
